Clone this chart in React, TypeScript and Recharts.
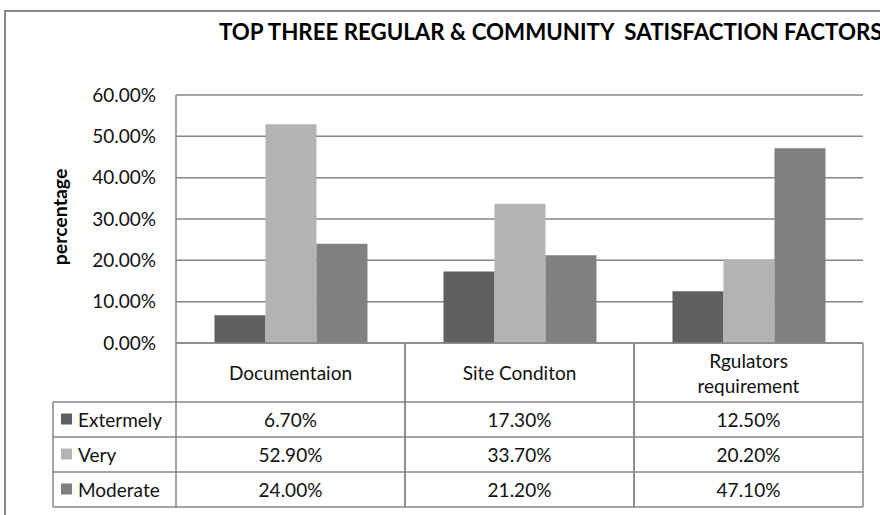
import React from 'react'
import { BarChart, Bar, XAxis, YAxis, CartesianGrid, Customized } from 'recharts'

// categories (a '\n' marks where the header cell wraps)
const categories = ['Documentaion', 'Site Conditon', 'Rgulators\nrequirement']
const seriesNames = ['Extermely', 'Very', 'Moderate']
const extremely = [6.7, 17.3, 12.5]
const very = [52.9, 33.7, 20.2]
const moderate = [24.0, 21.2, 47.1]
const yTicks = [0, 10, 20, 30, 40, 50, 60]

const seriesValues = [extremely, very, moderate]
const seriesColors = ['#606060', '#b3b3b3', '#808080']

const data = categories.map((name, i) => ({
  name,
  Extermely: extremely[i],
  Very: very[i],
  Moderate: moderate[i],
}))

const W = 880
const H = 515
const PLOT_LEFT = 176
const PLOT_TOP = 95
const PLOT_RIGHT = 863
const PLOT_BOTTOM = 343
const TABLE_LEFT = 53
const HEADER_BOTTOM = 402
const ROW_H = 35
const LINE = '#878787'
const FONT = 'Lato, "Noto Sans", sans-serif'
const FS = 19

const pct = (v: number) => `${v.toFixed(2)}%`

function TableTick(props: any) {
  const { x, payload } = props
  const idx = categories.indexOf(payload.value)
  const band = (PLOT_RIGHT - PLOT_LEFT) / categories.length
  const left = x - band / 2
  const right = x + band / 2
  const lines = String(payload.value).split('\n')
  const headerMid = (PLOT_BOTTOM + HEADER_BOTTOM) / 2
  const bottom = HEADER_BOTTOM + ROW_H * seriesNames.length
  return (
    <g>
      <line x1={left} y1={PLOT_BOTTOM} x2={left} y2={bottom} stroke={LINE} strokeWidth={1.5} />
      <line x1={right} y1={PLOT_BOTTOM} x2={right} y2={bottom} stroke={LINE} strokeWidth={1.5} />
      {lines.map((t, k) => (
        <text
          key={k}
          x={x}
          y={headerMid + (k - (lines.length - 1) / 2) * 25}
          textAnchor="middle"
          dominantBaseline="central"
          fontFamily={FONT}
          fontSize={FS}
          fill="#111"
        >
          {t}
        </text>
      ))}
      {seriesValues.map((vals, r) => (
        <text
          key={r}
          x={x}
          y={HEADER_BOTTOM + ROW_H * r + ROW_H / 2}
          textAnchor="middle"
          dominantBaseline="central"
          fontFamily={FONT}
          fontSize={FS}
          fill="#111"
        >
          {pct(vals[idx])}
        </text>
      ))}
    </g>
  )
}

function Extras() {
  const bottom = HEADER_BOTTOM + ROW_H * seriesNames.length
  return (
    <g>
      <text
        x={219}
        y={40}
        fontFamily={FONT}
        fontWeight="bold"
        fontSize={22.3}
        fill="#000"
      >
        TOP THREE REGULAR &amp; COMMUNITY{'\u00a0\u00a0'}SATISFACTION FACTORS
      </text>
      <text
        transform="translate(59,217) rotate(-90)"
        textAnchor="middle"
        dominantBaseline="central"
        fontFamily={FONT}
        fontWeight="bold"
        fontSize={19.5}
        fill="#000"
      >
        percentage
      </text>
      <line x1={TABLE_LEFT} y1={HEADER_BOTTOM} x2={TABLE_LEFT} y2={bottom} stroke={LINE} strokeWidth={1.5} />
      {[0, 1, 2, 3].map((r) => (
        <line
          key={r}
          x1={TABLE_LEFT}
          y1={HEADER_BOTTOM + ROW_H * r}
          x2={PLOT_RIGHT}
          y2={HEADER_BOTTOM + ROW_H * r}
          stroke={LINE}
          strokeWidth={1.5}
        />
      ))}
      {seriesNames.map((n, r) => {
        const cy = HEADER_BOTTOM + ROW_H * r + ROW_H / 2
        return (
          <g key={n}>
            <rect x={61} y={cy - 6} width={11} height={11} fill={seriesColors[r]} />
            <text
              x={78}
              y={cy}
              dominantBaseline="central"
              fontFamily={FONT}
              fontSize={FS}
              fill="#111"
            >
              {n}
            </text>
          </g>
        )
      })}
    </g>
  )
}

export default function App() {
  return (
    <div style={{ position: 'absolute', left: 0, top: 0, width: W, height: H, overflow: 'hidden', background: '#fff' }}>
      <div
        style={{
          position: 'absolute',
          left: 4,
          top: 10,
          width: 1000,
          height: 700,
          border: '2px solid #888',
        }}
      />
      <div style={{ position: 'absolute', left: 0, top: 0 }}>
        <BarChart
          width={W}
          height={H}
          data={data}
          margin={{ top: PLOT_TOP, right: W - PLOT_RIGHT, bottom: 0, left: 0 }}
          barCategoryGap="16.8%"
          barGap={0}
        >
          <CartesianGrid vertical={false} stroke={LINE} strokeWidth={1.5} />
          <XAxis
            dataKey="name"
            height={H - PLOT_BOTTOM}
            interval={0}
            tickLine={false}
            tickSize={0}
            axisLine={{ stroke: LINE, strokeWidth: 1.5 }}
            tick={<TableTick />}
          />
          <YAxis
            width={PLOT_LEFT}
            domain={[0, 60]}
            ticks={yTicks}
            tickFormatter={pct}
            tickLine={false}
            tickSize={0}
            tickMargin={20}
            axisLine={{ stroke: LINE, strokeWidth: 1.5 }}
            tick={{ fontFamily: FONT, fontSize: FS, fill: '#111' }}
          />
          {seriesNames.map((n, i) => (
            <Bar key={n} dataKey={n} fill={seriesColors[i]} isAnimationActive={false} />
          ))}
          <Customized component={<Extras />} />
        </BarChart>
      </div>
    </div>
  )
}
